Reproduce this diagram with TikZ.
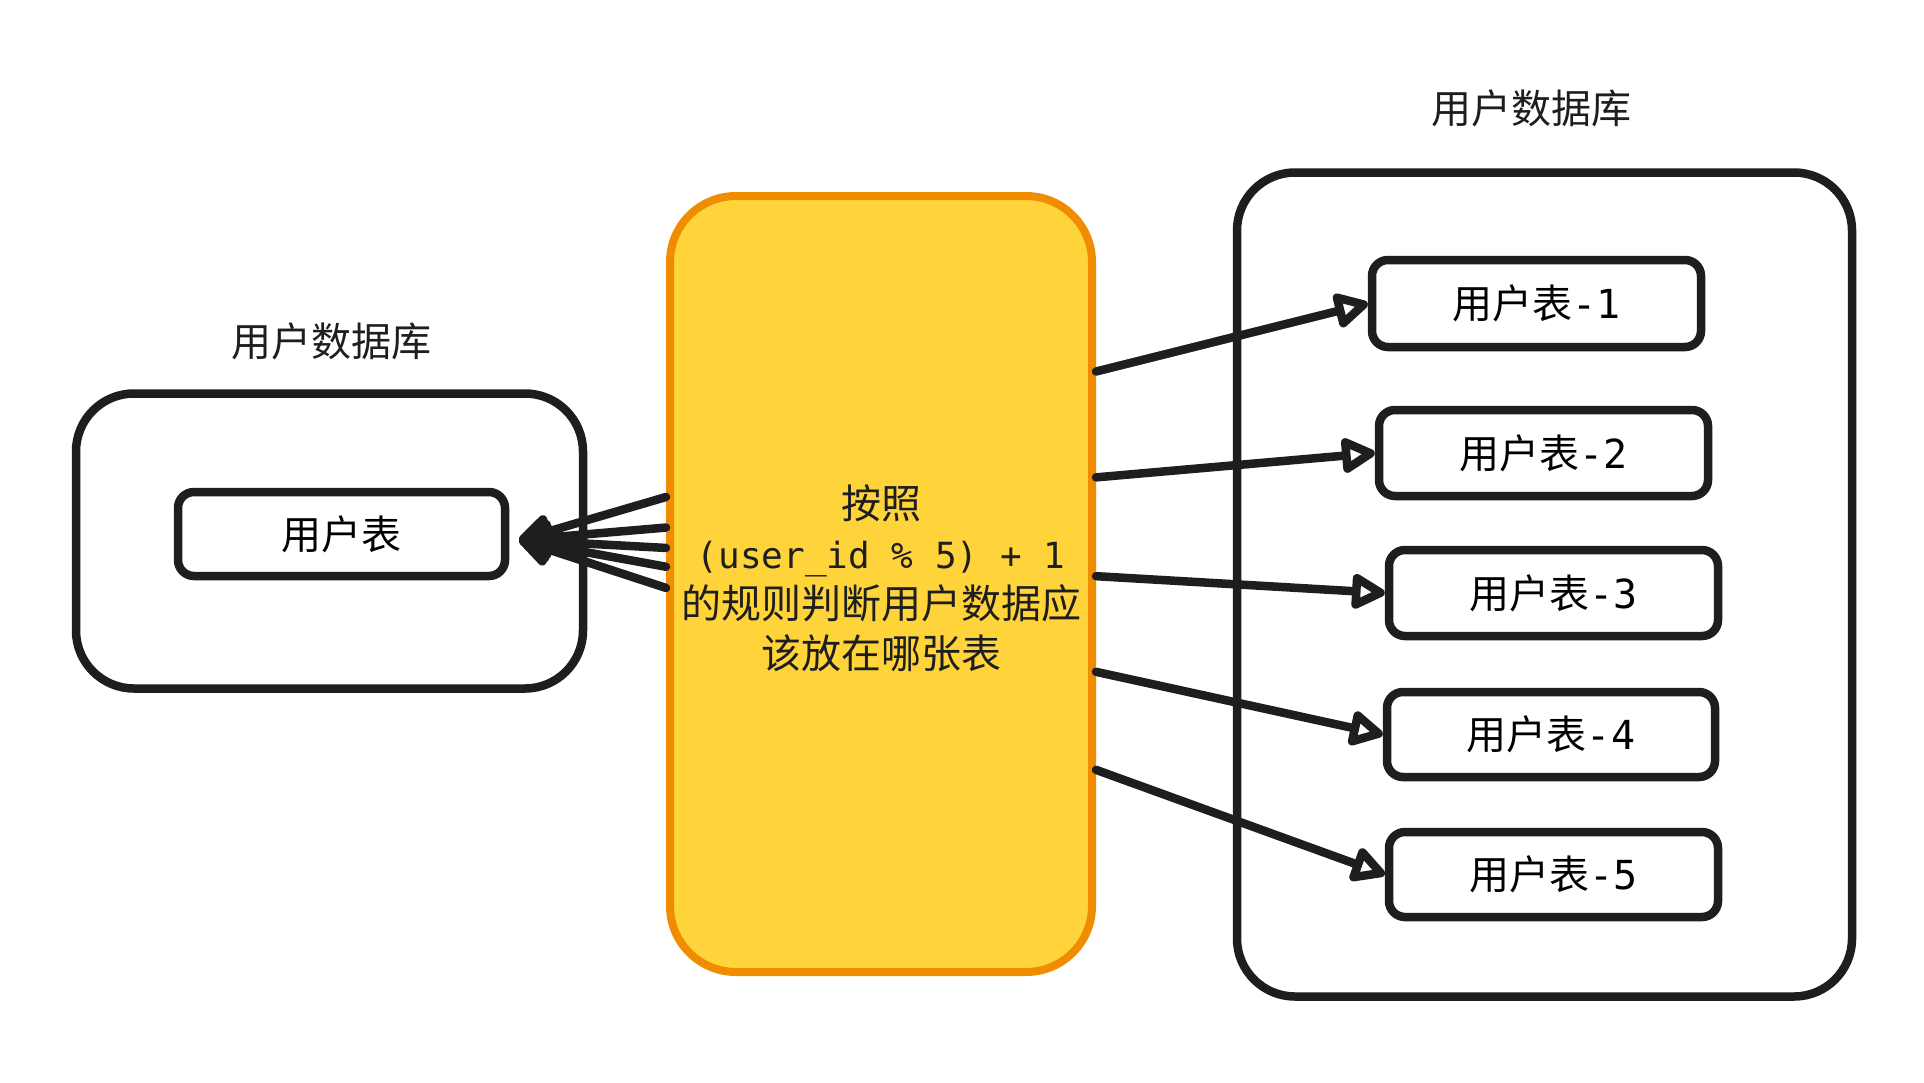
\documentclass[tikz,border=0pt]{standalone}
\usepackage{fontspec}
\newfontfamily\cjk{Noto Sans CJK SC}
\newfontfamily\mono{DejaVu Sans Mono}
\usetikzlibrary{arrows.meta,calc}
\definecolor{ink}{HTML}{1E1E1E}
\definecolor{yel}{HTML}{FFD43B}
\definecolor{org}{HTML}{F08C00}
\begin{document}
\begin{tikzpicture}[x=1pt,y=-1pt,
  dbbox/.style={draw=ink, line width=8.5pt, rounded corners=58pt},
  tbl/.style={draw=ink, line width=8.5pt, rounded corners=16pt, fill=white,
    font=\cjk\fontsize{40}{48}\selectfont, inner sep=0pt},
  lbl/.style={font=\cjk\fontsize{40}{48}\selectfont, text=ink, inner sep=0pt},
  rule/.style={draw=org, fill=yel, line width=8pt, rounded corners=66pt},
  arr/.style={draw=ink, line width=8.5pt, line cap=round,
    -{Triangle[open,round,length=38pt,width=38pt]}}
]
\useasboundingbox[fill=white] (0,0) rectangle (1924,1082);

% left database
\node[lbl] (ldblabel) at (331,341) {用户数据库};
\node[dbbox, minimum width=507pt, minimum height=295pt] (ldb) at (329.5,541) {};
\node[tbl, minimum width=327pt, minimum height=84pt] (t0) at (341.5,534) {用户表};

% rule box
\node[rule, minimum width=422pt, minimum height=776pt] (rulebox) at (881,584) {};
\node[font=\cjk\fontsize{40}{50}\selectfont, text=ink, align=center, inner sep=0pt] (ruletext) at (881,578)
  {按照\\{\mono\fontsize{36}{50}\selectfont (user\string_id \% 5) + 1}\\的规则判断用户数据应\\该放在哪张表};

% right database
\node[lbl] (rdblabel) at (1531,108) {用户数据库};
\node[dbbox, minimum width=615pt, minimum height=824pt] (rdb) at (1544.5,584.5) {};
\node[tbl, minimum width=329pt, minimum height=87pt] (t1) at (1536.5,303.5) {用户表{\mono -1}};
\node[tbl, minimum width=329pt, minimum height=86pt] (t2) at (1543.5,453) {用户表{\mono -2}};
\node[tbl, minimum width=329pt, minimum height=86pt] (t3) at (1553.5,593) {用户表{\mono -3}};
\node[tbl, minimum width=328pt, minimum height=85pt] (t4) at (1551,734.5) {用户表{\mono -4}};
\node[tbl, minimum width=329pt, minimum height=85pt] (t5) at (1553.5,874.5) {用户表{\mono -5}};

% arrows to right tables
\draw[arr] ($(rulebox.north east)!0.229!(rulebox.south east)$) -- (t1.west);
\draw[arr] ($(rulebox.north east)!0.364!(rulebox.south east)$) -- (t2.west);
\draw[arr] ($(rulebox.north east)!0.490!(rulebox.south east)$) -- (t3.west);
\draw[arr] ($(rulebox.north east)!0.612!(rulebox.south east)$) -- (t4.west);
\draw[arr] ($(rulebox.north east)!0.737!(rulebox.south east)$) -- (t5.west);

% arrows to left table
\coordinate (t0in) at ([xshift=10pt,yshift=-6pt]t0.east);
\foreach \f in {0.389,0.428,0.454,0.478,0.505}
  \draw[arr] ($(rulebox.north west)!\f!(rulebox.south west)$) -- (t0in);
\end{tikzpicture}
\end{document}
